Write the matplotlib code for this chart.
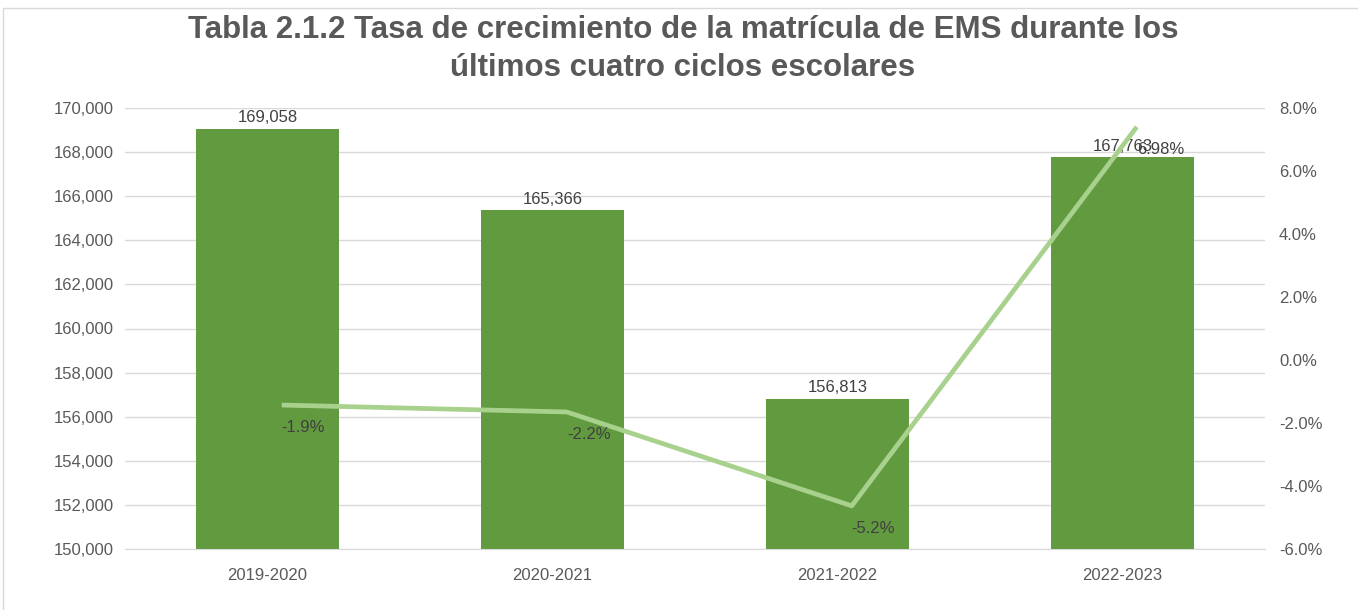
import matplotlib.pyplot as plt
from matplotlib.lines import Line2D
from matplotlib.ticker import FuncFormatter

plt.rcParams['font.family'] = ['Liberation Sans', 'DejaVu Sans']

ciclos = ['2019-2020', '2020-2021', '2021-2022', '2022-2023']
matricula = [169058, 165366, 156813, 167763]
tasa = [-1.43, -1.65, -4.63, 7.4]
tasa_labels = ['-1.9%', '-2.2%', '-5.2%', '6.98%']

gris = '#595959'

fig = plt.figure(figsize=(13.58, 6.10), dpi=100)
ax = fig.add_axes([125 / 1358, 1 - 549 / 610, 1140 / 1358, 441 / 610])

# marco del grafico (solo arriba e izquierda se ven en la imagen)
fx, fy = 3 / 1358, 1 - 8 / 610
fig.lines.append(Line2D([fx, fx, 1], [0, fy, fy], transform=fig.transFigure,
                        color='#D9D9D9', linewidth=1))

x = list(range(len(ciclos)))
ax.bar(x, matricula, width=0.5, color='#629A3F', zorder=2)
for xi, v in zip(x, matricula):
    ax.text(xi, v + 150, '{:,}'.format(v), ha='center', va='bottom',
            fontsize=12, color='#404040', zorder=5)

ax.set_xlim(-0.5, 3.5)
ax.set_ylim(150000, 170000)
ax.set_yticks(range(150000, 170001, 2000))
ax.yaxis.set_major_formatter(FuncFormatter(lambda v, p: '{:,.0f}'.format(v)))
ax.set_xticks(x)
ax.set_xticklabels(ciclos)
ax.grid(axis='y', color='#D9D9D9', linewidth=1, zorder=0)
ax.set_axisbelow(True)
for s in ['top', 'right', 'left']:
    ax.spines[s].set_visible(False)
ax.spines['bottom'].set_color('#D9D9D9')
ax.tick_params(length=0, labelsize=12, colors=gris, pad=8)
ax.tick_params(axis='x', pad=14)

ax2 = ax.twinx()
xl = [xi + 0.05 for xi in x]
ax2.plot(xl, tasa, color='#A9D18E', linewidth=3.4, solid_capstyle='butt', zorder=3)
for xi, v, lab in zip(xl, tasa, tasa_labels):
    ax2.annotate(lab, (xi, v), xytext=(0, -16), textcoords='offset points',
                 ha='left', va='center', fontsize=12, color='#404040')
ax2.set_ylim(-6, 8)
ax2.set_yticks(range(-6, 9, 2))
ax2.yaxis.set_major_formatter(FuncFormatter(lambda v, p: '{:.1f}%'.format(v)))
for s in ax2.spines.values():
    s.set_visible(False)
ax2.tick_params(length=0, labelsize=12, colors=gris, pad=10)

fig.text(683 / 1358, 1 - 49 / 610,
         'Tabla 2.1.2 Tasa de crecimiento de la matrícula de EMS durante los\núltimos cuatro ciclos escolares',
         ha='center', va='center', fontsize=22.5, fontweight='bold',
         color=gris, linespacing=1.38)

fig.savefig('out.png', dpi=100)
